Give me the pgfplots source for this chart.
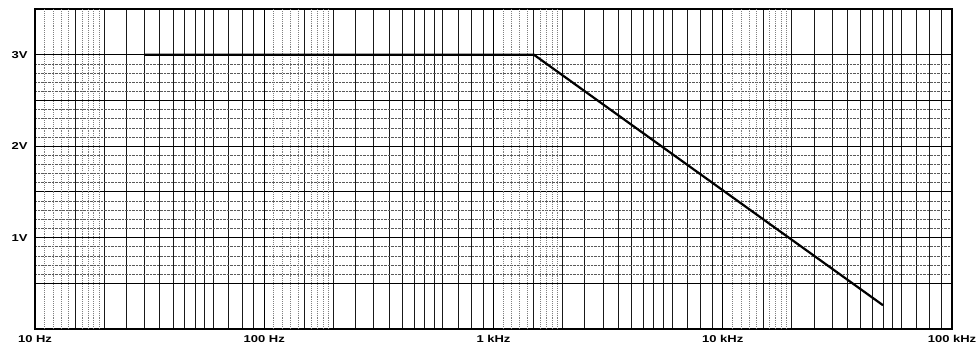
\documentclass[border=0pt]{standalone}
\usepackage{fontspec}
\usepackage{pgfplots}
\pgfplotsset{compat=1.18}
\newfontfamily\lbl[FakeStretch=1.3]{Liberation Sans Bold}

\begin{document}
\begin{tikzpicture}
  \begin{axis}[
    name=ax,
    xmode=log,
    width=917pt, height=320pt, scale only axis,
    xmin=10, xmax=100000, ymin=0, ymax=3.5,
    xtick={10,100,1000,10000,100000},
    xticklabels={10 Hz,100 Hz,1 kHz,10 kHz,100 kHz},
    minor xtick={15,20,25,30,35,40,45,50,55,60,70,80,90,
      150,200,250,300,350,400,450,500,550,600,700,800,900,
      1500,2000,2500,3000,3500,4000,4500,5000,5500,6000,7000,8000,9000,
      15000,20000,25000,30000,35000,40000,45000,50000,55000,60000,70000,80000,90000},
    extra x ticks={11,12,13,14,16,17,18,19,
      110,120,130,140,160,170,180,190,
      1100,1200,1300,1400,1600,1700,1800,1900,
      11000,12000,13000,14000,16000,17000,18000,19000},
    extra x tick labels={},
    extra x tick style={grid=major, major grid style={black!50, densely dotted, line width=0.5pt}},
    ytick={0.5,1,1.5,2,2.5,3},
    yticklabels={,1V,,2V,,3V},
    minor y tick num=4,
    grid=both,
    major grid style={black, line width=1.1pt},
    minor x grid style={black!90, line width=0.75pt},
    minor y grid style={black!65, densely dotted, line width=0.6pt},
    major tick length=0pt, minor tick length=0pt,
    axis line style={black, line width=1.3pt},
    ticklabel style={font=\lbl\fontsize{10}{11}\selectfont},
    xticklabel style={yshift=-3pt},
    yticklabel style={xshift=-4pt},
  ]
    \addplot[black, line width=2.2pt] coordinates {
      (30,3) (1500,3) (50000,0.26)
    };
  \end{axis}
  \path ([xshift=-35pt,yshift=-22pt]ax.south west) rectangle ([xshift=28pt,yshift=9pt]ax.north east);
\end{tikzpicture}
\end{document}
